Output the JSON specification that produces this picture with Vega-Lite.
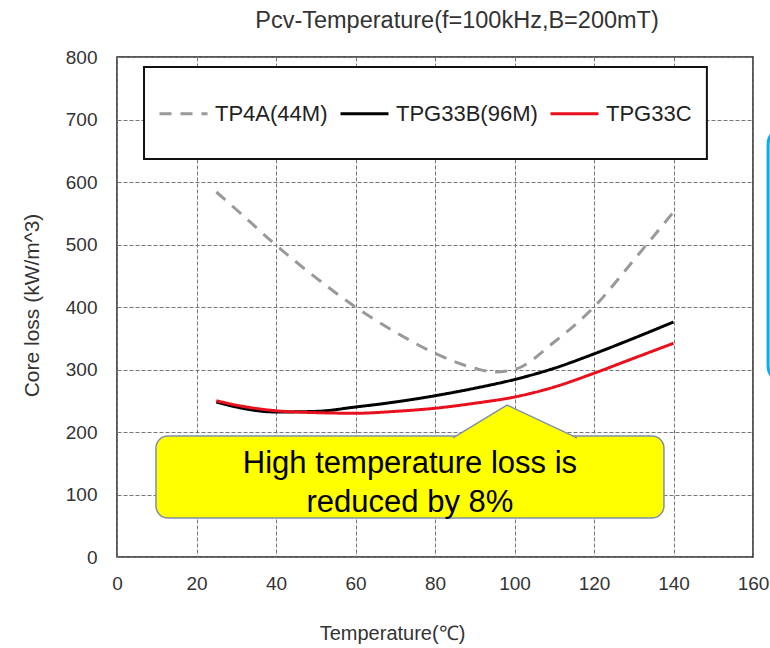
{
  "$schema": "https://vega.github.io/schema/vega-lite/v6.json",
  "width": 636,
  "height": 500,
  "autosize": {"type": "none"},
  "padding": {"left": 117, "top": 57, "right": 17, "bottom": 91},
  "background": "white",
  "title": {
    "text": "Pcv-Temperature(f=100kHz,B=200mT)",
    "fontSize": 23.5,
    "font": "Liberation Sans",
    "fontWeight": "normal",
    "color": "#333333",
    "anchor": "middle",
    "dx": 22,
    "offset": 16
  },
  "config": {
    "view": {"stroke": "#222222", "strokeWidth": 1.5},
    "axis": {
      "labelFont": "Liberation Sans",
      "titleFont": "Liberation Sans",
      "labelColor": "#333333",
      "titleColor": "#333333",
      "titleFontWeight": "normal",
      "domain": false,
      "ticks": false,
      "grid": true,
      "gridColor": "#777777",
      "gridDash": [4, 2],
      "gridWidth": 1,
      "gridOpacity": 1
    },
    "legend": {
      "orient": "none",
      "legendX": 41,
      "legendY": 31,
      "direction": "horizontal",
      "padding": 0,
      "symbolType": "stroke",
      "symbolSize": 2304,
      "symbolStrokeWidth": 3,
      "labelFont": "Liberation Sans",
      "labelFontSize": 22,
      "labelColor": "#222222",
      "labelOffset": 6,
      "columnPadding": 6
    }
  },
  "layer": [
    {
      "data": {"values": [{"item": "legend box"}]},
      "mark": {"type": "rect", "fill": "white", "stroke": "#111111", "strokeWidth": 2},
      "encoding": {
        "x": {"datum": 6.8, "type": "quantitative", "scale": {"domain": [0, 160], "nice": false}},
        "x2": {"datum": 148.4},
        "y": {"datum": 784, "type": "quantitative", "scale": {"domain": [0, 800], "nice": false}},
        "y2": {"datum": 637}
      }
    },
    {
      "data": {
        "values": [
          {"series": "TP4A(44M)", "temp": 25, "loss": 584},
          {"series": "TP4A(44M)", "temp": 30, "loss": 556},
          {"series": "TP4A(44M)", "temp": 40, "loss": 499},
          {"series": "TP4A(44M)", "temp": 50, "loss": 447},
          {"series": "TP4A(44M)", "temp": 60, "loss": 400},
          {"series": "TP4A(44M)", "temp": 70, "loss": 360},
          {"series": "TP4A(44M)", "temp": 80, "loss": 326},
          {"series": "TP4A(44M)", "temp": 90, "loss": 302},
          {"series": "TP4A(44M)", "temp": 95, "loss": 296},
          {"series": "TP4A(44M)", "temp": 100, "loss": 300},
          {"series": "TP4A(44M)", "temp": 110, "loss": 344},
          {"series": "TP4A(44M)", "temp": 120, "loss": 400},
          {"series": "TP4A(44M)", "temp": 130, "loss": 475},
          {"series": "TP4A(44M)", "temp": 140, "loss": 552},
          {"series": "TPG33B(96M)", "temp": 25, "loss": 248},
          {"series": "TPG33B(96M)", "temp": 30, "loss": 240},
          {"series": "TPG33B(96M)", "temp": 40, "loss": 232},
          {"series": "TPG33B(96M)", "temp": 50, "loss": 233},
          {"series": "TPG33B(96M)", "temp": 60, "loss": 240},
          {"series": "TPG33B(96M)", "temp": 70, "loss": 248},
          {"series": "TPG33B(96M)", "temp": 80, "loss": 258},
          {"series": "TPG33B(96M)", "temp": 90, "loss": 270},
          {"series": "TPG33B(96M)", "temp": 100, "loss": 284},
          {"series": "TPG33B(96M)", "temp": 110, "loss": 302},
          {"series": "TPG33B(96M)", "temp": 120, "loss": 325},
          {"series": "TPG33B(96M)", "temp": 130, "loss": 350},
          {"series": "TPG33B(96M)", "temp": 140, "loss": 376},
          {"series": "TPG33C", "temp": 25, "loss": 250},
          {"series": "TPG33C", "temp": 30, "loss": 243},
          {"series": "TPG33C", "temp": 40, "loss": 234},
          {"series": "TPG33C", "temp": 50, "loss": 231},
          {"series": "TPG33C", "temp": 60, "loss": 230},
          {"series": "TPG33C", "temp": 70, "loss": 233},
          {"series": "TPG33C", "temp": 80, "loss": 238},
          {"series": "TPG33C", "temp": 90, "loss": 246},
          {"series": "TPG33C", "temp": 100, "loss": 256},
          {"series": "TPG33C", "temp": 110, "loss": 272},
          {"series": "TPG33C", "temp": 120, "loss": 294},
          {"series": "TPG33C", "temp": 130, "loss": 318},
          {"series": "TPG33C", "temp": 140, "loss": 342}
        ]
      },
      "mark": {"type": "line", "strokeWidth": 3, "interpolate": "monotone"},
      "encoding": {
        "x": {
          "field": "temp",
          "type": "quantitative",
          "scale": {"domain": [0, 160], "nice": false},
          "axis": {
            "values": [0, 20, 40, 60, 80, 100, 120, 140, 160],
            "title": "Temperature(℃)",
            "labelFontSize": 19,
            "labelPadding": 17,
            "labelFlush": false,
            "titleFontSize": 20,
            "titleX": 275,
            "titleY": 76,
            "titleBaseline": "middle"
          }
        },
        "y": {
          "field": "loss",
          "type": "quantitative",
          "scale": {"domain": [0, 800], "nice": false},
          "axis": {
            "values": [0, 100, 200, 300, 400, 500, 600, 700, 800],
            "title": "Core loss (kW/m^3)",
            "labelFontSize": 19,
            "labelPadding": 20,
            "labelFlush": false,
            "titleFontSize": 21,
            "titleX": -85,
            "titleY": 248,
            "titleBaseline": "middle",
            "titleAlign": "center"
          }
        },
        "color": {
          "field": "series",
          "type": "nominal",
          "scale": {
            "domain": ["TP4A(44M)", "TPG33B(96M)", "TPG33C"],
            "range": ["#999999", "#000000", "#e8101c"]
          },
          "legend": {"title": null}
        },
        "strokeDash": {
          "field": "series",
          "type": "nominal",
          "scale": {
            "domain": ["TP4A(44M)", "TPG33B(96M)", "TPG33C"],
            "range": [[12, 9], [1, 0], [1, 0]]
          },
          "legend": {"title": null}
        },
        "order": {"field": "temp"}
      }
    },
    {
      "data": {"values": [{"item": "callout"}]},
      "mark": {"type": "rect", "fill": "#ffff00", "stroke": "#8090a8", "strokeWidth": 1.5, "cornerRadius": 12},
      "encoding": {
        "x": {"datum": 9.8, "type": "quantitative"},
        "x2": {"datum": 137.6},
        "y": {"datum": 193.6, "type": "quantitative"},
        "y2": {"datum": 62.4}
      }
    },
    {
      "data": {"values": [{"item": "callout pointer"}]},
      "mark": {
        "type": "point",
        "shape": "M-0.871,0.53L0,0L1.129,0.53",
        "size": 15376,
        "filled": true,
        "fill": "#ffff00",
        "stroke": "#8090a8",
        "strokeWidth": 1.5,
        "opacity": 1
      },
      "encoding": {
        "x": {"datum": 98.1, "type": "quantitative"},
        "y": {"datum": 243.2, "type": "quantitative"}
      }
    },
    {
      "data": {"values": [{"item": "callout text"}]},
      "mark": {
        "type": "text",
        "text": ["High temperature loss is", "reduced by 8%"],
        "font": "Liberation Sans",
        "fontSize": 31,
        "fontWeight": "normal",
        "lineHeight": 39,
        "align": "center",
        "baseline": "alphabetic",
        "fill": "#000000",
        "strokeWidth": 0
      },
      "encoding": {
        "x": {"datum": 73.7, "type": "quantitative"},
        "y": {"datum": 134, "type": "quantitative"}
      }
    },
    {
      "data": {"values": [{"item": "side box"}]},
      "mark": {"type": "rect", "fill": "white", "stroke": "#00b0f0", "strokeWidth": 3, "cornerRadius": 16, "clip": false},
      "encoding": {
        "x": {"datum": 163.8, "type": "quantitative"},
        "x2": {"datum": 185},
        "y": {"datum": 686, "type": "quantitative"},
        "y2": {"datum": 280}
      }
    }
  ]
}
